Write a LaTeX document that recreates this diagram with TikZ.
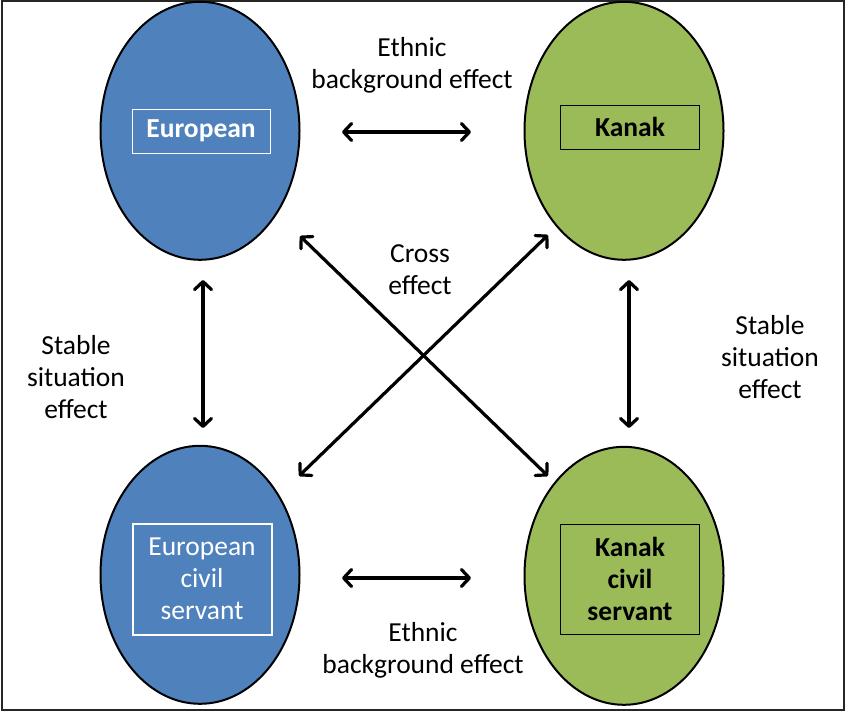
\documentclass[tikz,border=0pt]{standalone}
\usepackage{fontspec}
\setmainfont{Carlito}
\usetikzlibrary{shapes.geometric,arrows.meta}
\definecolor{eublue}{HTML}{4F81BD}
\definecolor{kagreen}{HTML}{9BBB59}
\tikzset{
  oval/.style={ellipse, minimum width=199pt, minimum height=258pt, inner sep=0pt},
  rim/.style={draw=black, line width=2pt, line join=round, line cap=round},
  inbox/.style={draw, rectangle, inner sep=0pt, align=center, font=\fontsize{27.5}{32}\selectfont},
  lbl/.style={align=center, inner sep=0pt, font=\fontsize{27.5}{32}\selectfont},
  arr/.style={line width=3.2pt, {Straight Barb[length=8pt,width=17pt,line cap=round,line join=round]}-{Straight Barb[length=8pt,width=17pt,line cap=round,line join=round]}},
}
\begin{document}
\begin{tikzpicture}[x=1pt,y=-1pt]
\useasboundingbox (0,0) rectangle (846,713);
\draw[line width=2.2pt, draw=black!85] (2,1) rectangle (844,710);

\node[oval, fill=eublue] (eu) at (200,131) {};
\node[oval, fill=kagreen] (ka) at (624,131) {};
\node[oval, fill=eublue] (ecs) at (200,575) {};
\node[oval, fill=kagreen] (kcs) at (624,576) {};
\foreach \n in {eu,ka,ecs,kcs}
  \draw[rim] (\n.north) arc[start angle=90, end angle=-270, x radius=99.5pt, y radius=129pt];

\node[inbox, draw=white, line width=0.8pt, minimum width=138pt, minimum height=44pt, text=white, font=\fontsize{27.5}{32}\selectfont\bfseries] (eut) at (201,131) {European};
\node[inbox, draw=black, line width=0.8pt, minimum width=139pt, minimum height=44pt, font=\fontsize{27.5}{32}\selectfont\bfseries] (kat) at (630,127) {Kanak};
\node[inbox, draw=white, line width=2pt, minimum width=139pt, minimum height=111pt, text=white] (ecst) at (202,579) {European\\civil\\servant};
\node[inbox, draw=black, line width=0.8pt, minimum width=139pt, minimum height=110pt, font=\fontsize{27.5}{32}\selectfont\bfseries] (kcst) at (630,579) {Kanak\\civil\\servant};

\node[lbl] (l1) at (412,65) {Ethnic\\background effect};
\node[lbl] (l2) at (420,270) {Cross\\effect};
\node[lbl] (l3) at (76,377) {Stable\\situation\\effect};
\node[lbl] (l4) at (770,357) {Stable\\situation\\effect};
\node[lbl] (l5) at (423,650) {Ethnic\\background effect};

\coordinate (a1s) at (342,132); \coordinate (a1e) at (471,132);
\coordinate (a2s) at (342,578); \coordinate (a2e) at (471,578);
\coordinate (a3s) at (203,280); \coordinate (a3e) at (203,428);
\coordinate (a4s) at (629,280); \coordinate (a4e) at (629,428);
\coordinate (d1s) at (300,236); \coordinate (d1e) at (548,476);
\coordinate (d2s) at (548,235); \coordinate (d2e) at (299,476);

\draw[arr] (a1s) -- (a1e);
\draw[arr] (a2s) -- (a2e);
\draw[arr] (a3s) -- (a3e);
\draw[arr] (a4s) -- (a4e);
\draw[arr] (d1s) -- (d1e);
\draw[arr] (d2s) -- (d2e);
\end{tikzpicture}
\end{document}
